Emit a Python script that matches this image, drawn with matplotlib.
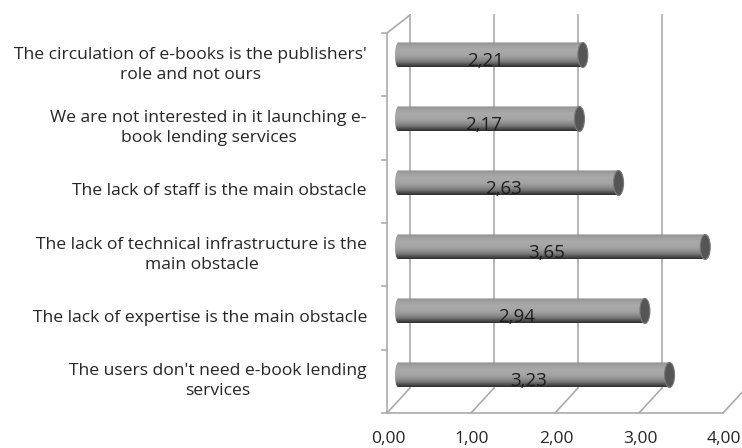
import numpy as np
import matplotlib
matplotlib.use("Agg")
import matplotlib.pyplot as plt
from matplotlib.colors import LinearSegmentedColormap
from matplotlib.patches import Ellipse, PathPatch
from matplotlib.path import Path

# ---- data -------------------------------------------------------------
categories = [
    "The circulation of e-books is the publishers'\nrole and not ours",
    "We are not interested in it launching e-\nbook lending services",
    "The lack of staff is the main obstacle",
    "The lack of technical infrastructure is the\nmain obstacle",
    "The lack of expertise is the main obstacle",
    "The users don't need e-book lending\nservices",
]
values = [2.21, 2.17, 2.63, 3.65, 2.94, 3.23]
x_ticks = [0, 1, 2, 3, 4]
x_tick_labels = ["0,00", "1,00", "2,00", "3,00", "4,00"]

plt.rcParams["font.family"] = ["Open Sans", "DejaVu Sans"]
TEXT = "#262626"
GRID = "#ababab"

W, H = 742, 448
fig = plt.figure(figsize=(W / 100, H / 100), dpi=100)
fig.patch.set_facecolor("white")

# ---- 3-D frame (walls, floor, gridlines) in pixel space ---------------
deco = fig.add_axes([0, 0, 1, 1], zorder=0)
deco.set_xlim(0, W)
deco.set_ylim(H, 0)
deco.axis("off")

front_left, floor_y, top_y = 387, 413, 33
depth_dx, depth_dy = 23, -25
unit_px = 84

def front_x(t):
    return front_left + unit_px * t

# side wall: front vertical axis, top edge and category ticks
deco.plot([front_left, front_left], [top_y, floor_y], color=GRID, lw=1.2)
deco.plot([front_left, front_left + depth_dx], [top_y, 15], color=GRID, lw=1.2)
n = len(categories)
band = (floor_y - top_y) / n
for k in range(n + 1):
    yk = top_y + band * k
    deco.plot([front_left - 5, front_left], [yk, yk], color=GRID, lw=1.2)

# floor front edge
deco.plot([front_x(x_ticks[0]), front_x(x_ticks[-1])], [floor_y, floor_y],
          color=GRID, lw=1.2)

# floor depth lines and back-wall gridlines
for t, lab in zip(x_ticks, x_tick_labels):
    fx = front_x(t)
    bx = fx + depth_dx
    by = floor_y + depth_dy
    deco.plot([fx, bx], [floor_y, by], color=GRID, lw=1.2)
    deco.plot([bx, bx], [by, 15], color=GRID, lw=1.2)
    deco.text(fx + 1, 439, lab, ha="center", va="center", fontsize=12.5,
              color=TEXT)

# category labels, centred on the front-axis bands
for i, lab in enumerate(categories):
    yc = top_y + band * (i + 0.5)
    deco.text(367, yc, lab, ha="right", va="center", fontsize=12.6,
              color=TEXT, linespacing=1.32, multialignment="center")

# ---- cylinder bars ----------------------------------------------------
bar_px = 85
ax_left, ax_right = 395, 395 + bar_px * 4
first_c, step = 55, 64
ax_top = first_c - step / 2
ax_bot = first_c + step * (n - 0.5)
ax = fig.add_axes([ax_left / W, 1 - ax_bot / H,
                   (ax_right - ax_left) / W, (ax_bot - ax_top) / H], zorder=2)
ax.set_xlim(0, 4)
ax.set_ylim(n - 0.5, -0.5)
ax.axis("off")
ax.patch.set_alpha(0)

shade = LinearSegmentedColormap.from_list(
    "cyl",
    [(0.0, "#7a7a7a"), (0.06, "#9c9c9c"), (0.3, "#aaaaaa"), (0.55, "#a3a3a3"),
     (0.78, "#7e7e7e"), (0.92, "#4a4a4a"), (1.0, "#2e2e2e")])
grad = np.linspace(0, 1, 64).reshape(-1, 1)

bar_h = 25 / step
cap_w = 10 / bar_px
round_w = 3.5 / bar_px

for i, v in enumerate(values):
    top, bot = i - bar_h / 2, i + bar_h / 2
    # body outline: rounded on the left, flat on the right (cap drawn after)
    theta = np.linspace(np.pi / 2, 3 * np.pi / 2, 30)
    arc_x = round_w + round_w * np.cos(theta)
    arc_y = i - (bar_h / 2) * np.sin(theta)
    verts = [(v, top)] + list(zip(arc_x, arc_y)) + [(v, bot), (v, top)]
    codes = [Path.MOVETO] + [Path.LINETO] * (len(verts) - 2) + [Path.CLOSEPOLY]
    clip = PathPatch(Path(verts, codes), facecolor="none", edgecolor="none",
                     transform=ax.transData)
    ax.add_patch(clip)
    im = ax.imshow(grad, cmap=shade, aspect="auto", extent=[0, v, bot, top],
                   interpolation="bilinear", zorder=3)
    im.set_clip_path(clip)
    # end cap
    ax.add_patch(Ellipse((v, i), cap_w, bar_h, facecolor="#555555",
                         edgecolor="#7a7a7a", lw=0.8, zorder=4))
    ax.text(v / 2 - 0.04, i + 6 / step, f"{v:.2f}".replace(".", ","),
            ha="center", va="center", fontsize=13.5, color="#1e1e1e", zorder=5)

ax.set_xlim(0, 4)
ax.set_ylim(n - 0.5, -0.5)

fig.savefig("out.png", dpi=100)
